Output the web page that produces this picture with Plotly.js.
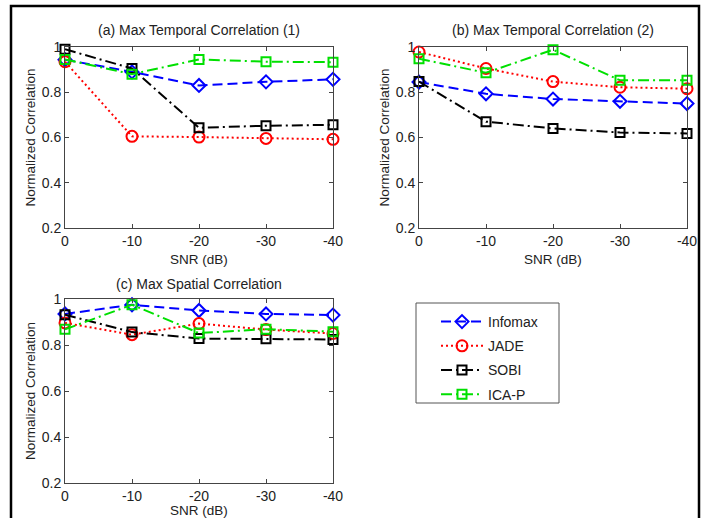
<!DOCTYPE html>
<html>
<head>
<meta charset="utf-8">
<script src="https://cdn.plot.ly/plotly-3.0.1.min.js"></script>
<style>html,body{margin:0;padding:0;background:#fff;}#chart{width:705px;height:518px;}</style>
</head>
<body>
<div id="chart"></div>
<script>
// ---- data ----
const snr = [0, -10, -20, -30, -40];
const xTickLabels = ['0', '-10', '-20', '-30', '-40'];
const yTickVals = [0.2, 0.4, 0.6, 0.8, 1];
const yTickLabels = ['0.2', '0.4', '0.6', '0.8', '1'];
const methods = ['Infomax', 'JADE', 'SOBI', 'ICA-P'];
const panelTitles = ['(a) Max Temporal Correlation (1)', '(b) Max Temporal Correlation (2)', '(c) Max Spatial Correlation'];

// (a) Max Temporal Correlation (1)
const a_infomax = [0.944, 0.890, 0.830, 0.846, 0.857];
const a_jade    = [0.935, 0.605, 0.602, 0.596, 0.592];
const a_sobi    = [0.990, 0.905, 0.643, 0.652, 0.656];
const a_icap    = [0.945, 0.880, 0.945, 0.935, 0.933];
// (b) Max Temporal Correlation (2)
const b_infomax = [0.845, 0.793, 0.770, 0.760, 0.750];
const b_jade    = [0.978, 0.905, 0.847, 0.822, 0.816];
const b_sobi    = [0.847, 0.670, 0.640, 0.622, 0.618];
const b_icap    = [0.948, 0.886, 0.988, 0.853, 0.853];
// (c) Max Spatial Correlation
const c_infomax = [0.935, 0.975, 0.950, 0.935, 0.930];
const c_jade    = [0.896, 0.845, 0.893, 0.867, 0.850];
const c_sobi    = [0.932, 0.856, 0.828, 0.827, 0.824];
const c_icap    = [0.868, 0.975, 0.852, 0.869, 0.858];

const panelData = [
  [a_infomax, a_jade, a_sobi, a_icap],
  [b_infomax, b_jade, b_sobi, b_icap],
  [c_infomax, c_jade, c_sobi, c_icap]
];

// ---- styles ----
const styles = [
  {color: '#0000ff', dash: '10px,5px',          symbol: 'diamond-open', size: 10},
  {color: '#ff0000', dash: '2px,3px',           symbol: 'circle-open',  size: 11},
  {color: '#000000', dash: '11px,4px,2px,4px',  symbol: 'square-open',  size: 9},
  {color: '#00e000', dash: '11px,4px,2px,4px',  symbol: 'square-open',  size: 9}
];

const W = 705, H = 518;
const px = v => v / W, py = v => 1 - v / H;
const xDomains = [[px(65), px(333)], [px(419), px(687)], [px(65), px(333)]];
const yDomains = [[py(228), py(47)], [py(228), py(47)], [py(483), py(299)]];
const titleOffsets = [17, 17, 15];

const traces = [];
panelData.forEach((series, p) => {
  series.forEach((vals, m) => {
    const s = styles[m];
    traces.push({
      x: snr, y: vals, type: 'scatter', mode: 'lines+markers',
      name: methods[m], legendgroup: methods[m], showlegend: p === 0,
      xaxis: p === 0 ? 'x' : 'x' + (p + 1), yaxis: p === 0 ? 'y' : 'y' + (p + 1),
      cliponaxis: false,
      line: {color: s.color, dash: s.dash, width: 2},
      marker: {symbol: s.symbol, size: s.size, color: s.color, line: {color: s.color, width: 2}}
    });
  });
});

const font = {family: 'Liberation Sans, Arial, sans-serif', size: 14, color: '#222'};
const yTitleFont = {family: font.family, size: 13.5, color: '#222'};
const xTitleFont = {family: font.family, size: 13.5, color: '#222'};
const layout = {
  width: W, height: H,
  margin: {l: 0, r: 0, t: 0, b: 0},
  paper_bgcolor: '#fff', plot_bgcolor: '#fff',
  font: font,
  showlegend: true,
  legend: {
    x: px(436), y: py(306), xanchor: 'left', yanchor: 'top',
    borderwidth: 0, bgcolor: 'rgba(0,0,0,0)',
    traceorder: 'grouped', tracegroupgap: 3, itemwidth: 42,
    font: {family: font.family, size: 14, color: '#222'}
  },
  annotations: [],
  shapes: [
    {type: 'rect', xref: 'paper', yref: 'paper', x0: px(11), x1: px(699), y0: py(530), y1: py(6),
     line: {color: '#000', width: 2.5}, fillcolor: 'rgba(0,0,0,0)'},
    {type: 'rect', xref: 'paper', yref: 'paper', x0: px(416), x1: px(559), y0: py(403), y1: py(303),
     line: {color: '#555', width: 1}, fillcolor: 'rgba(0,0,0,0)', layer: 'below'}
  ]
};

for (let p = 0; p < 3; p++) {
  const xk = p === 0 ? 'xaxis' : 'xaxis' + (p + 1);
  const yk = p === 0 ? 'yaxis' : 'yaxis' + (p + 1);
  const yname = p === 0 ? 'y' : 'y' + (p + 1);
  const xname = p === 0 ? 'x' : 'x' + (p + 1);
  layout[xk] = {
    domain: xDomains[p], anchor: yname, range: [0, -40],
    tickvals: snr, ticktext: xTickLabels,
    ticks: 'inside', ticklen: 4, tickcolor: '#444', mirror: 'allticks',
    showline: true, linecolor: '#444', linewidth: 1, showgrid: false, zeroline: false,
    tickfont: font,
    title: {text: 'SNR (dB)', font: xTitleFont, standoff: 6}
  };
  layout[yk] = {
    domain: yDomains[p], anchor: xname, range: [0.2, 1],
    tickvals: yTickVals, ticktext: yTickLabels,
    ticks: 'inside', ticklen: 4, tickcolor: '#444', mirror: 'allticks',
    showline: true, linecolor: '#444', linewidth: 1, showgrid: false, zeroline: false,
    tickfont: font,
    title: {text: 'Normalized Correlation', font: yTitleFont, standoff: 3}
  };
  layout.annotations.push({
    text: panelTitles[p], xref: 'paper', yref: 'paper',
    x: (xDomains[p][0] + xDomains[p][1]) / 2, y: yDomains[p][1] + titleOffsets[p] / H,
    xanchor: 'center', yanchor: 'middle', showarrow: false, font: font
  });
}

Plotly.newPlot('chart', traces, layout, {displayModeBar: false, staticPlot: true});
</script>
</body>
</html>
